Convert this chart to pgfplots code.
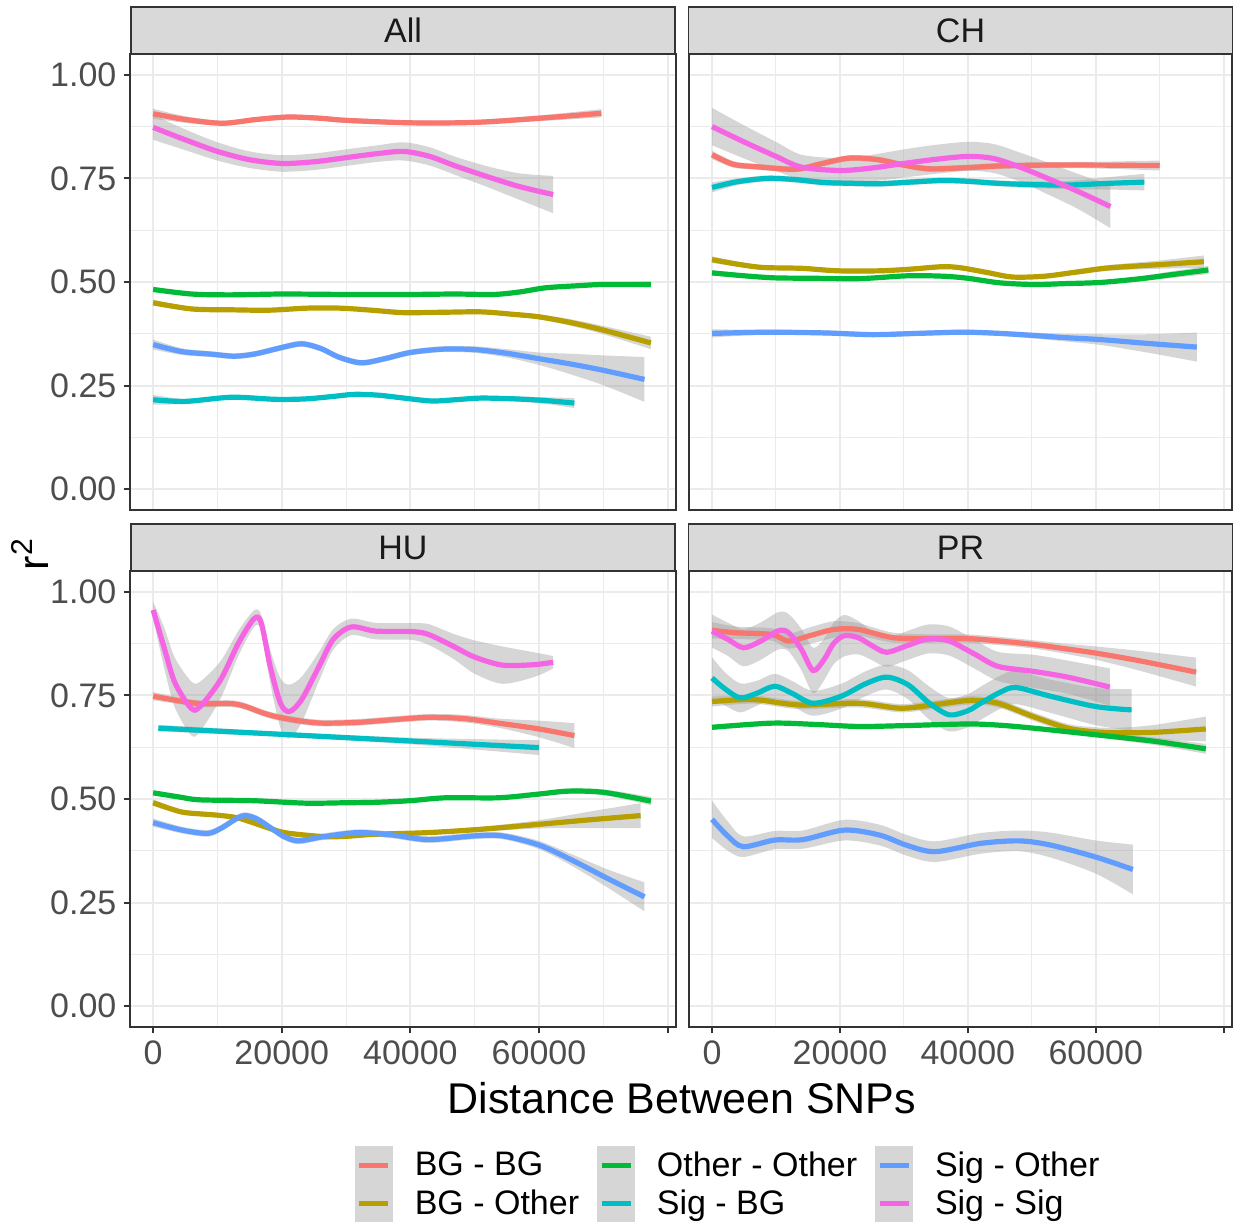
\documentclass[border=0pt]{standalone}
\usepackage{pgfplots}
\pgfplotsset{compat=1.18}
\usepackage{pgfplotstable}
\usepgfplotslibrary{fillbetween}
\usepackage{fontspec}
\setmainfont{Liberation Sans}

\definecolor{cBB}{HTML}{F8766D}
\definecolor{cBO}{HTML}{B79F00}
\definecolor{cOO}{HTML}{00BA38}
\definecolor{cSB}{HTML}{00BFC4}
\definecolor{cSO}{HTML}{619CFF}
\definecolor{cSS}{HTML}{F564E3}
\definecolor{gridc}{HTML}{EBEBEB}
\definecolor{g20}{HTML}{333333}
\definecolor{g30}{HTML}{4D4D4D}
\definecolor{g10}{HTML}{1A1A1A}
\definecolor{stripc}{HTML}{D9D9D9}
\definecolor{bandc}{HTML}{999999}
\definecolor{keybg}{HTML}{D6D6D6}

% ---------------- All ----------------
\pgfplotstableread{
x y e
0 0.906 0.012
5000 0.892 0.008
10800 0.883 0.006
16000 0.892 0.006
21000 0.898 0.006
26000 0.895 0.006
30000 0.890 0.006
40000 0.884 0.006
50000 0.885 0.006
60000 0.895 0.007
69700 0.907 0.010
}\tAbb
\pgfplotstableread{
x y e
0 0.450 0.007
6000 0.435 0.005
12000 0.433 0.004
18000 0.432 0.004
24000 0.437 0.004
29000 0.437 0.004
34000 0.432 0.004
39000 0.426 0.004
45000 0.427 0.004
51000 0.428 0.004
56000 0.422 0.005
60000 0.416 0.006
65000 0.402 0.008
70000 0.384 0.010
77400 0.353 0.015
}\tAbo
\pgfplotstableread{
x y e
0 0.482 0.005
6000 0.471 0.004
12000 0.469 0.003
20000 0.471 0.003
30000 0.470 0.003
40000 0.470 0.003
47000 0.471 0.003
53000 0.470 0.003
57000 0.476 0.003
61000 0.486 0.004
66000 0.491 0.004
70000 0.494 0.005
77400 0.494 0.007
}\tAoo
\pgfplotstableread{
x y e
0 0.216 0.012
5000 0.212 0.006
12200 0.222 0.005
19000 0.217 0.005
23700 0.218 0.005
28000 0.224 0.005
31300 0.229 0.005
35000 0.227 0.005
39000 0.220 0.005
43300 0.213 0.005
47000 0.216 0.005
51000 0.220 0.005
56400 0.218 0.006
61000 0.214 0.008
65500 0.208 0.012
}\tAsb
\pgfplotstableread{
x y e
0 0.349 0.012
4500 0.332 0.008
9000 0.326 0.007
12700 0.321 0.007
16000 0.327 0.007
20000 0.342 0.007
23100 0.351 0.007
26000 0.340 0.007
29000 0.318 0.007
32400 0.305 0.007
36000 0.315 0.007
40000 0.330 0.007
45000 0.338 0.007
50000 0.337 0.008
55000 0.328 0.010
60000 0.315 0.015
65000 0.302 0.025
70000 0.287 0.036
76400 0.265 0.054
}\tAso
\pgfplotstableread{
x y e
0 0.873 0.030
5000 0.843 0.025
10000 0.815 0.022
15000 0.795 0.020
20000 0.786 0.020
25000 0.790 0.020
30000 0.800 0.020
35000 0.810 0.020
39000 0.815 0.022
43000 0.803 0.022
47000 0.780 0.022
52000 0.754 0.025
57000 0.730 0.032
62200 0.711 0.045
}\tAss
% ---------------- CH ----------------
\pgfplotstableread{
x y e
0 0.807 0.010
3300 0.784 0.008
7000 0.778 0.007
13000 0.772 0.007
17000 0.785 0.007
21500 0.799 0.007
26000 0.795 0.007
30000 0.782 0.007
34000 0.773 0.007
40000 0.776 0.007
45000 0.780 0.007
52000 0.782 0.007
60000 0.782 0.008
70000 0.781 0.012
}\tCbb
\pgfplotstableread{
x y e
0 0.554 0.008
4000 0.543 0.006
8000 0.535 0.005
14000 0.533 0.005
19700 0.527 0.005
26200 0.527 0.005
31000 0.531 0.005
36100 0.537 0.005
39000 0.534 0.005
43000 0.523 0.005
47000 0.512 0.005
52000 0.514 0.005
57000 0.524 0.006
62000 0.534 0.007
70000 0.542 0.010
76900 0.549 0.015
}\tCbo
\pgfplotstableread{
x y e
0 0.522 0.006
5000 0.515 0.005
9800 0.510 0.004
16000 0.509 0.004
23000 0.508 0.004
30600 0.515 0.004
36100 0.514 0.004
40000 0.509 0.004
45000 0.498 0.004
50300 0.494 0.004
55000 0.496 0.004
60800 0.499 0.005
67000 0.508 0.006
72000 0.518 0.008
77600 0.529 0.010
}\tCoo
\pgfplotstableread{
x y e
0 0.728 0.012
4000 0.742 0.008
8700 0.750 0.007
13000 0.747 0.007
17500 0.740 0.007
22000 0.738 0.007
26200 0.737 0.007
31000 0.741 0.007
36100 0.745 0.007
40000 0.743 0.007
44800 0.738 0.007
50000 0.735 0.008
55700 0.734 0.010
62000 0.738 0.015
67600 0.741 0.020
}\tCsb
\pgfplotstableread{
x y e
0 0.376 0.010
5000 0.378 0.007
9800 0.379 0.006
18000 0.377 0.006
25100 0.373 0.006
32000 0.376 0.006
39300 0.379 0.006
45000 0.376 0.006
50300 0.371 0.007
55000 0.366 0.009
60800 0.361 0.013
68000 0.352 0.022
75800 0.343 0.035
}\tCso
\pgfplotstableread{
x y e
0 0.875 0.045
5000 0.838 0.040
10000 0.803 0.035
14000 0.777 0.030
20000 0.769 0.030
25000 0.775 0.032
30000 0.786 0.034
35000 0.796 0.035
40000 0.803 0.035
44000 0.798 0.035
48000 0.778 0.035
52000 0.753 0.038
57000 0.720 0.042
62300 0.682 0.052
}\tCss
% ---------------- HU ----------------
\pgfplotstableread{
x y e
0 0.748 0.010
4000 0.737 0.008
7300 0.730 0.008
12200 0.730 0.008
14400 0.723 0.008
17000 0.708 0.008
19300 0.698 0.008
23000 0.688 0.008
26400 0.683 0.008
31900 0.685 0.008
37000 0.691 0.008
42800 0.697 0.008
48300 0.694 0.009
53700 0.683 0.011
60000 0.669 0.020
65500 0.653 0.030
}\tHbb
\pgfplotstableread{
x y e
0 0.491 0.008
3000 0.475 0.006
5100 0.467 0.005
10000 0.461 0.005
13000 0.455 0.005
15500 0.443 0.005
19800 0.421 0.005
23000 0.414 0.005
26900 0.409 0.005
30000 0.410 0.005
34600 0.415 0.005
42800 0.419 0.005
51000 0.427 0.006
60000 0.439 0.010
68000 0.450 0.020
75800 0.460 0.030
}\tHbo
\pgfplotstableread{
x y e
0 0.515 0.006
4000 0.505 0.005
7300 0.498 0.004
15500 0.496 0.004
23700 0.490 0.004
30000 0.491 0.004
34600 0.492 0.004
40000 0.496 0.004
45500 0.503 0.004
53700 0.503 0.004
60000 0.512 0.005
64600 0.519 0.006
70100 0.516 0.007
77400 0.495 0.010
}\tHoo
\pgfplotstableread{
x y e
800 0.671 0.008
20000 0.656 0.006
40000 0.640 0.008
60000 0.624 0.018
}\tHsb
\pgfplotstableread{
x y e
0 0.443 0.010
4500 0.425 0.008
8400 0.417 0.008
10500 0.429 0.008
13800 0.459 0.008
16000 0.453 0.008
18500 0.428 0.008
20400 0.409 0.008
22600 0.399 0.008
26400 0.409 0.008
31900 0.419 0.008
37300 0.413 0.008
42800 0.402 0.008
49900 0.411 0.008
54300 0.411 0.008
60000 0.389 0.010
65200 0.352 0.014
70700 0.308 0.022
76400 0.264 0.035
}\tHso
\pgfplotstableread{
x y e
0 0.956 0.020
1800 0.860 0.050
3400 0.780 0.060
5900 0.719 0.065
7300 0.723 0.060
10500 0.788 0.045
13300 0.877 0.030
15700 0.935 0.020
16800 0.925 0.020
18200 0.820 0.040
19800 0.731 0.060
21200 0.711 0.065
23100 0.740 0.055
25800 0.820 0.035
28000 0.885 0.025
30800 0.915 0.020
34600 0.905 0.020
40100 0.904 0.020
42800 0.897 0.025
46600 0.869 0.030
49900 0.843 0.040
54300 0.823 0.045
59200 0.824 0.030
62200 0.830 0.015
}\tHss
% ---------------- PR ----------------
\pgfplotstableread{
x y e
0 0.907 0.020
3800 0.901 0.015
9300 0.897 0.015
12000 0.881 0.018
15500 0.895 0.020
19100 0.909 0.020
22900 0.909 0.015
28400 0.889 0.012
35000 0.887 0.010
40000 0.887 0.010
45000 0.881 0.010
50200 0.873 0.010
55000 0.863 0.012
60000 0.852 0.016
67000 0.833 0.024
75700 0.806 0.035
}\tPbb
\pgfplotstableread{
x y e
0 0.735 0.012
6500 0.740 0.010
13600 0.727 0.010
22900 0.731 0.010
29500 0.719 0.010
35000 0.728 0.010
40400 0.738 0.010
44700 0.731 0.010
50200 0.699 0.010
55600 0.671 0.010
60000 0.662 0.011
63800 0.660 0.012
69300 0.661 0.018
77200 0.669 0.030
}\tPbo
\pgfplotstableread{
x y e
0 0.673 0.006
9300 0.683 0.005
16000 0.680 0.005
22900 0.675 0.005
30000 0.677 0.005
40000 0.681 0.005
45000 0.678 0.005
50200 0.671 0.005
60000 0.655 0.006
69300 0.639 0.009
77200 0.621 0.012
}\tPoo
\pgfplotstableread{
x y e
0 0.792 0.050
2000 0.766 0.040
4400 0.744 0.035
7000 0.755 0.030
9800 0.772 0.030
12500 0.755 0.030
15800 0.731 0.030
20200 0.748 0.030
24000 0.778 0.030
27300 0.794 0.030
30600 0.776 0.035
34000 0.731 0.040
37100 0.703 0.040
40000 0.713 0.040
42000 0.731 0.040
45000 0.757 0.040
47500 0.769 0.040
52900 0.748 0.040
60000 0.723 0.045
65600 0.715 0.050
}\tPsb
\pgfplotstableread{
x y e
0 0.451 0.045
2500 0.410 0.035
4900 0.385 0.025
9800 0.401 0.022
14200 0.402 0.022
20700 0.425 0.025
26200 0.413 0.025
30500 0.388 0.025
34900 0.373 0.025
42000 0.393 0.025
48000 0.399 0.025
52900 0.389 0.030
60000 0.360 0.040
65800 0.330 0.060
}\tPso
\pgfplotstableread{
x y e
0 0.905 0.040
2500 0.885 0.040
4900 0.865 0.045
7500 0.880 0.045
10400 0.906 0.045
12000 0.901 0.045
14000 0.860 0.050
15800 0.810 0.055
17500 0.836 0.050
19000 0.875 0.050
20700 0.894 0.050
22900 0.889 0.040
25000 0.870 0.035
27300 0.854 0.035
30500 0.870 0.035
33800 0.886 0.035
37100 0.881 0.035
41000 0.850 0.035
44700 0.820 0.035
50200 0.808 0.040
55600 0.794 0.040
62200 0.770 0.045
}\tPss

% band + line for one series: #1 table, #2 colour, #3 unique id
\newcommand{\series}[3]{%
  \addplot[name path=hi#3, draw=none, smooth, forget plot] table[x=x, y expr=\thisrow{y}+\thisrow{e}] {#1};
  \addplot[name path=lo#3, draw=none, smooth, forget plot] table[x=x, y expr=\thisrow{y}-\thisrow{e}] {#1};
  \addplot[fill=bandc, fill opacity=0.4, draw=none, forget plot] fill between[of=hi#3 and lo#3];
  \addplot[color=#2, line width=2.6pt, smooth, forget plot] table[x=x, y=y] {#1};
}

\pgfplotsset{
  panel/.style={
    scale only axis, width=273pt, height=228pt,
    xmin=-3600, xmax=81300, ymin=-0.05, ymax=1.05,
    scaled x ticks=false, scaled y ticks=false,
    xtick={0,20000,40000,60000,80000},
    ytick={0,0.25,0.5,0.75,1},
    minor xtick={10000,30000,50000,70000},
    minor ytick={0.125,0.375,0.625,0.875},
    xmajorgrids, ymajorgrids, xminorgrids, yminorgrids,
    major grid style={gridc, line width=1pt},
    minor grid style={gridc, line width=0.5pt},
    axis line style={g20, line width=0.9pt},
    tick align=outside, xtick pos=bottom, ytick pos=left,
    major tick length=3.2pt,
    major tick style={g20, line width=0.9pt},
    minor tick style={draw=none},
    ticklabel style={font=\fontsize{17}{17}\selectfont, text=g30, inner sep=3.4pt},
    xticklabels={0,20000,40000,60000,{}},
    yticklabels={0.00,0.25,0.50,0.75,1.00},
    every axis title/.style={at={(0.5,1)}, anchor=south, fill=stripc, draw=g20,
      line width=0.9pt, minimum width=272pt, minimum height=23.5pt,
      inner sep=0pt, outer sep=0pt, font=\fontsize{17}{17}\selectfont, text=g10},
  },
  notop/.style={xticklabels={}, major x tick style={draw=none}},
  noleft/.style={yticklabels={}, major y tick style={draw=none}},
}

\begin{document}
\begin{tikzpicture}

% ---- All ----
\begin{axis}[panel, notop, at={(65pt,-255pt)}, anchor=south west, title={All}]
\series{\tAbb}{cBB}{a1}
\series{\tAbo}{cBO}{a2}
\series{\tAoo}{cOO}{a3}
\series{\tAsb}{cSB}{a4}
\series{\tAso}{cSO}{a5}
\series{\tAss}{cSS}{a6}
\end{axis}

% ---- CH ----
\begin{axis}[panel, notop, noleft, width=271.5pt, at={(344.5pt,-255pt)}, anchor=south west, title={CH}]
\series{\tCbb}{cBB}{c1}
\series{\tCbo}{cBO}{c2}
\series{\tCoo}{cOO}{c3}
\series{\tCsb}{cSB}{c4}
\series{\tCso}{cSO}{c5}
\series{\tCss}{cSS}{c6}
\end{axis}

% ---- HU ----
\begin{axis}[panel, at={(65pt,-513.5pt)}, anchor=south west, title={HU},
  legend columns=3,
  legend cell align=left,
  legend style={at={(0.412,-0.261)}, anchor=north west, draw=none, fill=none,
    inner sep=0pt, outer sep=0pt, font=\fontsize{17}{17}\selectfont, text=black,
    nodes={inner sep=0pt},
    /tikz/every odd column/.append style={column sep=11pt},
    /tikz/every even column/.append style={column sep=9pt},
    row sep=0pt},
  legend image code/.code={%
    \fill[keybg] (0pt,-9.4pt) rectangle (18.5pt,9.4pt);
    \draw[line width=2.6pt] (2pt,0pt) -- (16.5pt,0pt);
  }]
\series{\tHbb}{cBB}{h1}
\series{\tHbo}{cBO}{h2}
\series{\tHoo}{cOO}{h3}
\series{\tHsb}{cSB}{h4}
\series{\tHso}{cSO}{h5}
\series{\tHss}{cSS}{h6}
\addlegendimage{color=cBB}\addlegendentry{BG - BG}
\addlegendimage{color=cOO}\addlegendentry{Other - Other}
\addlegendimage{color=cSO}\addlegendentry{Sig - Other}
\addlegendimage{color=cBO}\addlegendentry{BG - Other}
\addlegendimage{color=cSB}\addlegendentry{Sig - BG}
\addlegendimage{color=cSS}\addlegendentry{Sig - Sig}
\end{axis}

% ---- PR ----
\begin{axis}[panel, noleft, width=271.5pt, at={(344.5pt,-513.5pt)}, anchor=south west, title={PR}]
\series{\tPbb}{cBB}{p1}
\series{\tPbo}{cBO}{p2}
\series{\tPoo}{cOO}{p3}
\series{\tPsb}{cSB}{p4}
\series{\tPso}{cSO}{p5}
\series{\tPss}{cSS}{p6}
\end{axis}

\node[rotate=90, font=\fontsize{21.5}{21.5}\selectfont] at (15pt,-277pt) {r\textsuperscript{2}};
\node[anchor=base, font=\fontsize{21.5}{21.5}\selectfont] at (341pt,-556.5pt) {Distance Between SNPs};

\pgfresetboundingbox
\path (0,0) rectangle (616.5pt,-611pt);
\end{tikzpicture}
\end{document}
